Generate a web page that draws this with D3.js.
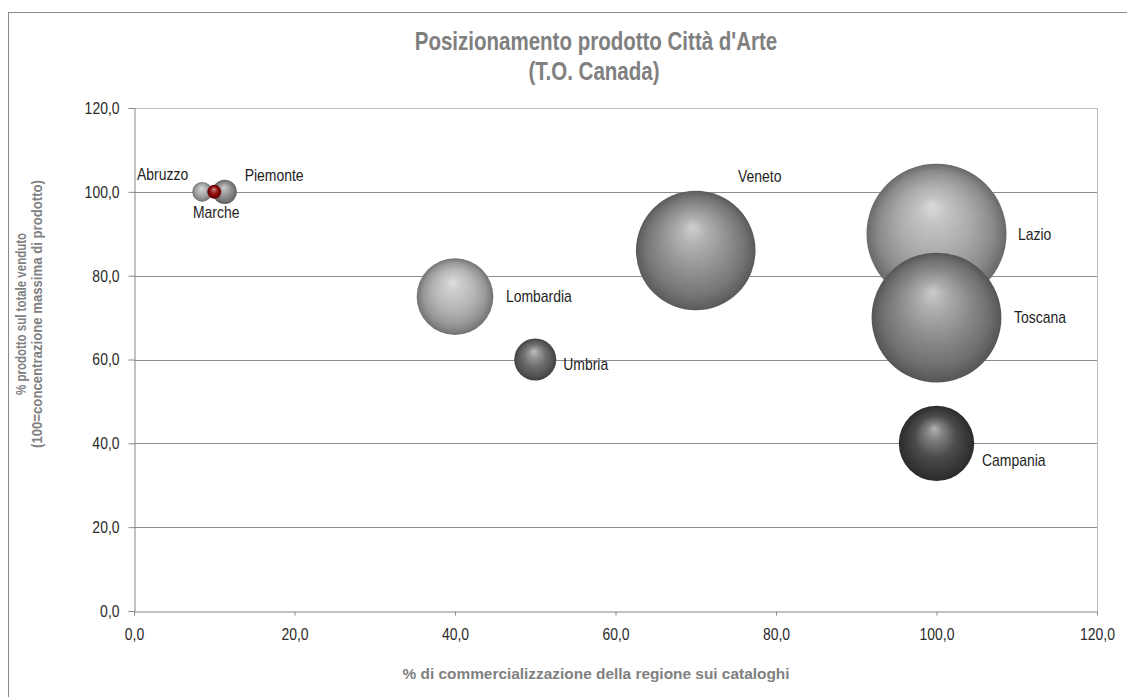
<!DOCTYPE html>
<html>
<head>
<meta charset="utf-8">
<script src="https://cdn.jsdelivr.net/npm/d3@7"></script>
<style>
  html, body { margin: 0; padding: 0; background: #fff; }
  svg { display: block; }
</style>
</head>
<body>
<svg id="chart" width="1127" height="697"></svg>
<script>
// ---- data ----
const regions = ["Lazio", "Toscana", "Veneto", "Lombardia", "Campania", "Umbria", "Piemonte", "Abruzzo", "Marche"];
const commercializzazione = [100, 100, 70, 40, 100, 50, 11.3, 8.5, 10];   // x: % di commercializzazione
const prodottoVenduto = [90, 70, 86, 75, 40, 60, 100, 100, 100];          // y: % prodotto sul totale venduto
const bubbleSize = [100, 86, 73, 30, 29, 9, 3, 2, 1];                    // bubble area
const xTicks = [0, 20, 40, 60, 80, 100, 120];
const yTicks = [0, 20, 40, 60, 80, 100, 120];

// ---- styling ----
const bubbleColors = ["#a2a2a2", "#838383", "#8a8a8a", "#b0b0b0", "#424242", "#646464", "#8c8c8c", "#a6a6a6", "#8a0000"];
const labelPlacement = {
  Lazio:     { dx: 81.5, dy: 6,    anchor: "start" },
  Toscana:   { dx: 77.5, dy: 5.5,  anchor: "start" },
  Veneto:    { dx: 64,   dy: -68.5, anchor: "middle" },
  Lombardia: { dx: 51,   dy: 5.5,  anchor: "start" },
  Campania:  { dx: 45.5, dy: 23,   anchor: "start" },
  Umbria:    { dx: 28,   dy: 10.5, anchor: "start" },
  Piemonte:  { dx: 20,   dy: -10.5, anchor: "start" },
  Abruzzo:   { dx: -14,  dy: -11.5, anchor: "end" },
  Marche:    { dx: 2,    dy: 26.5, anchor: "middle" }
};

const svg = d3.select("#chart");
const W = 1127, H = 697;
const plot = { left: 134, top: 108, right: 1097, bottom: 611 };

// pick a condensed face; fall back to squeezing the regular one
function hasFont(name) {
  const t = svg.append("text").attr("font-size", 40).attr("font-family", "monospace").text("abcdefghijklmnopWMxyz");
  const w1 = t.node().getComputedTextLength();
  t.attr("font-family", `'${name}', monospace`);
  const w2 = t.node().getComputedTextLength();
  t.remove();
  return Math.abs(w1 - w2) > 0.5;
}
const narrowOK = hasFont("Liberation Sans Narrow");
const FONT = narrowOK ? "'Liberation Sans Narrow', 'Arial Narrow', sans-serif" : "'Liberation Sans', Arial, sans-serif";
function condense(sel, target) {
  sel.each(function () {
    const node = this;
    const natural = node.getComputedTextLength();
    if (target) {
      d3.select(node).attr("textLength", target).attr("lengthAdjust", narrowOK ? "spacing" : "spacingAndGlyphs");
    } else if (!narrowOK) {
      d3.select(node).attr("textLength", natural * 0.82).attr("lengthAdjust", "spacingAndGlyphs");
    }
  });
}

const fmt = v => d3.format(".1f")(v).replace(".", ",");

const x = d3.scaleLinear().domain([0, 120]).range([plot.left, plot.right]);
const y = d3.scaleLinear().domain([0, 120]).range([plot.bottom, plot.top]);
const r = d3.scaleSqrt().domain([0, d3.max(bubbleSize)]).range([0, 70]);

// outer chart frame
svg.append("rect")
  .attr("x", 8.5).attr("y", 12.5)
  .attr("width", W + 20).attr("height", H + 20)
  .attr("fill", "#fff").attr("stroke", "#8a8a8a").attr("stroke-width", 1);

// title
const title = svg.append("g").attr("font-family", FONT).attr("font-weight", "bold")
  .attr("font-size", 25).attr("fill", "#808080").attr("text-anchor", "middle");
title.append("text").attr("x", 596).attr("y", 50).text("Posizionamento prodotto Città d'Arte").call(condense);
title.append("text").attr("x", 594).attr("y", 80).text("(T.O. Canada)").call(condense);

// plot area border (top / right)
svg.append("path")
  .attr("d", `M${plot.left},${plot.top + 0.5}H${plot.right + 0.5}V${plot.bottom}`)
  .attr("fill", "none").attr("stroke", "#bdbdbd");

// horizontal gridlines
svg.append("g").selectAll("line")
  .data(yTicks.filter(v => v > 0 && v < 120))
  .join("line")
  .attr("x1", plot.left).attr("x2", plot.right)
  .attr("y1", d => Math.round(y(d)) + 0.5).attr("y2", d => Math.round(y(d)) + 0.5)
  .attr("stroke", "#8c8c8c").attr("stroke-width", 1);

// axes
const yAxis = svg.append("g")
  .attr("transform", `translate(${plot.left + 0.5},0)`)
  .call(d3.axisLeft(y).tickValues(yTicks).tickFormat(fmt).tickSizeInner(6).tickSizeOuter(0).tickPadding(9));
const xAxis = svg.append("g")
  .attr("transform", `translate(0,${plot.bottom + 0.5})`)
  .call(d3.axisBottom(x).tickValues(xTicks).tickFormat(fmt).tickSizeInner(4).tickSizeOuter(0).tickPadding(12));
[xAxis, yAxis].forEach(a => {
  a.select(".domain").attr("stroke", "#868686");
  a.selectAll(".tick line").attr("stroke", "#868686");
  a.selectAll(".tick text").attr("font-family", FONT).attr("font-size", 17).attr("fill", "#2a2a2a").call(condense);
});

// bubble gradients: soft highlight near the top, darkening toward the rim
const defs = svg.append("defs");
const mix = (c, k) => k >= 0 ? d3.interpolateRgb(c, "#ffffff")(k) : d3.interpolateRgb(c, "#000000")(-k);
bubbleColors.forEach((c, i) => {
  const g = defs.append("radialGradient").attr("id", "bub" + i)
    .attr("cx", "50%").attr("cy", "50%").attr("r", "50%")
    .attr("fx", "47%").attr("fy", "30%");
  [[0, 0.6], [0.2, 0.35], [0.55, 0.05], [0.82, -0.15], [1, -0.35]]
    .forEach(([o, k]) => g.append("stop").attr("offset", o).attr("stop-color", mix(c, k)));
});

// bubbles, largest drawn first
const data = regions.map((name, i) => ({
  name, i, x: commercializzazione[i], y: prodottoVenduto[i], size: bubbleSize[i]
})).sort((a, b) => b.size - a.size);

svg.append("g").selectAll("circle")
  .data(data)
  .join("circle")
  .attr("cx", d => x(d.x)).attr("cy", d => y(d.y)).attr("r", d => r(d.size))
  .attr("fill", d => `url(#bub${d.i})`);

// data labels
svg.append("g").attr("font-family", FONT).attr("font-size", 17).attr("fill", "#1e1e1e")
  .selectAll("text")
  .data(data)
  .join("text")
  .attr("x", d => x(d.x) + labelPlacement[d.name].dx)
  .attr("y", d => y(d.y) + labelPlacement[d.name].dy)
  .attr("text-anchor", d => labelPlacement[d.name].anchor)
  .text(d => d.name)
  .call(condense);

// axis titles
svg.append("text")
  .attr("x", 596).attr("y", 679)
  .attr("text-anchor", "middle")
  .attr("font-family", FONT).attr("font-weight", "bold").attr("font-size", 14).attr("fill", "#808080")
  .text("% di commercializzazione della regione sui cataloghi")
  .call(condense, 387);

const yt = svg.append("g").attr("transform", "translate(0,314) rotate(-90)")
  .attr("font-family", FONT).attr("font-weight", "bold").attr("font-size", 14)
  .attr("fill", "#808080").attr("text-anchor", "middle");
yt.append("text").attr("x", 0).attr("y", 26).text("% prodotto sul totale venduto").call(condense);
yt.append("text").attr("x", 0).attr("y", 42).text("(100=concentrazione massima di prodotto)").call(condense, 268);
</script>
</body>
</html>
